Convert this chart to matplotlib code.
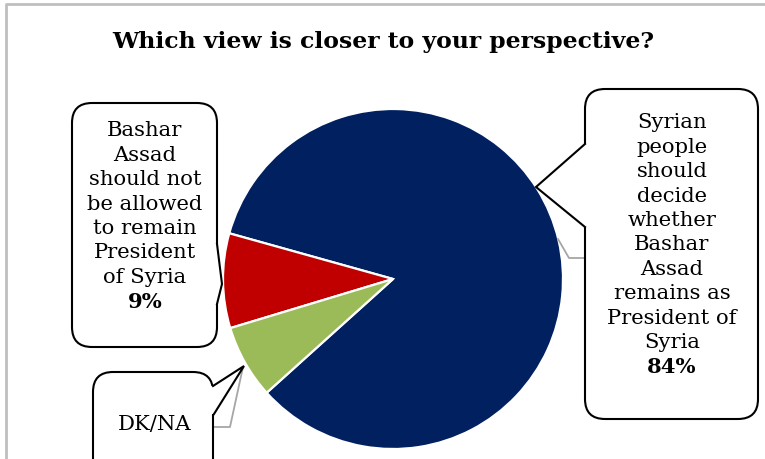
import matplotlib.pyplot as plt
from matplotlib.patches import FancyBboxPatch, Polygon

# survey answers
answers = [
    ['Syrian', 'people', 'should', 'decide', 'whether', 'Bashar', 'Assad',
     'remains as', 'President of', 'Syria'],
    ['Bashar', 'Assad', 'should not', 'be allowed', 'to remain', 'President',
     'of Syria'],
    ['DK/NA'],
]
shares = [84, 9, 7]
show_share = [True, True, False]
colors = ['#002060', '#C00000', '#9BBB59']
title = 'Which view is closer to your perspective?'

W, H = 765, 460
fig = plt.figure(figsize=(W / 100, H / 100), dpi=100)
ax = fig.add_axes([0, 0, 1, 1])

ax.pie(shares, colors=colors, startangle=222, counterclock=True,
       center=(393, H - 280), radius=170,
       wedgeprops=dict(edgecolor='white', linewidth=1.6))
ax.set_xlim(0, W)
ax.set_ylim(0, H)
ax.set_aspect('auto')
ax.axis('off')

# outer frame (left and top only visible)
ax.plot([6, 6, W], [0, H - 5, H - 5], color='#bfbfbf', lw=2, zorder=1)

serif = 'DejaVu Serif'
ax.text(383, H - 42, title, ha='center', va='center', fontsize=16.9,
        fontweight='bold', family=serif)


def callout(x0, y0, x1, y1, base_a, tip, base_b, side):
    # rounded box in pixel coords (y down), with a wedge pointer on one side
    box = FancyBboxPatch((x0, H - y1), x1 - x0, y1 - y0,
                         boxstyle='round,pad=0,rounding_size=20',
                         facecolor='white', edgecolor='black', lw=1.5,
                         zorder=3)
    ax.add_patch(box)
    inset = 3 if side == 'right' else -3
    pts = [(base_a[0] - inset, H - base_a[1]), (base_a[0], H - base_a[1]),
           (tip[0], H - tip[1]), (base_b[0], H - base_b[1]),
           (base_b[0] - inset, H - base_b[1])]
    ax.add_patch(Polygon(pts, closed=True, facecolor='white',
                         edgecolor='none', zorder=4))
    ax.plot([base_a[0], tip[0], base_b[0]],
            [H - base_a[1], H - tip[1], H - base_b[1]],
            color='black', lw=1.5, zorder=5, solid_joinstyle='miter')


def leader(points):
    ax.plot([p[0] for p in points], [H - p[1] for p in points],
            color='#a6a6a6', lw=1.3, zorder=2)


def box_text(cx, y_first, lines, share, show, step=24.4):
    rows = list(lines) + ([f'{share}%'] if show else [])
    for i, row in enumerate(rows):
        bold = show and i == len(rows) - 1
        ax.text(cx, H - (y_first + i * step), row, ha='center', va='center',
                fontsize=15.2, family=serif,
                fontweight='bold' if bold else 'normal', zorder=6)


# leader lines from slices to boxes
leader([(558, 240), (569, 259), (585, 259)])
leader([(243, 368), (230, 428), (213, 428)])

callout(585, 90, 758, 420, (585, 145), (536, 188), (585, 228), 'left')
box_text(672, 123, answers[0], shares[0], show_share[0])

callout(72, 104, 217, 348, (217, 245), (222, 285), (217, 305), 'right')
box_text(145, 131, answers[1], shares[1], show_share[1])

callout(93, 373, 213, 480, (213, 387), (244, 367), (214, 415), 'right')
box_text(155, 425, answers[2], shares[2], show_share[2])

fig.savefig('out.png', dpi=100)
